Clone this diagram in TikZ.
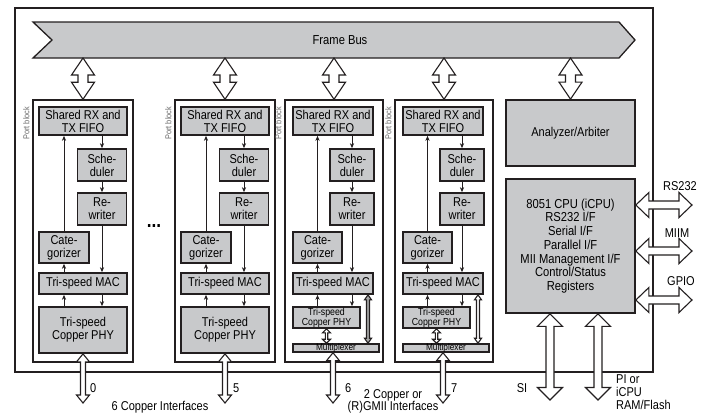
\documentclass[tikz,border=0pt]{standalone}
\usepackage{fontspec}
\setmainfont{Liberation Sans}[FakeStretch=0.86]
\usetikzlibrary{arrows.meta,calc}

\definecolor{boxgray}{RGB}{200,201,203}
\definecolor{ink}{RGB}{35,31,32}

\newcommand\mainfs{\fontsize{12.8}{13}\selectfont}

\tikzset{
  blk/.style={draw=ink, fill=boxgray, line width=1.7pt, inner sep=0pt, align=center, font=\mainfs},
  portframe/.style={draw=ink, fill=white, line width=1.5pt, inner sep=0pt},
  flow/.style={draw=ink, line width=0.8pt, -{Stealth[length=5pt,width=4.2pt]}},
  hollow/.style={draw=ink, fill=white, line width=1.1pt, line join=miter},
  plabel/.style={font=\fontsize{8.5}{9}\selectfont, text=black!60, inner sep=0.5pt},
  lbl/.style={font=\mainfs, inner sep=0pt, align=left}
}

% vertical hollow double arrow: [style]{top point}{bottom point}{half shaft}{half head}{head length}
\newcommand\vhollow[6][]{%
  \draw[hollow,#1] let \p1=(#2), \p2=(#3) in
    (\x1,\y1) -- (\x1+#5pt,\y1-#6pt) -- (\x1+#4pt,\y1-#6pt) -- (\x1+#4pt,\y2+#6pt)
    -- (\x1+#5pt,\y2+#6pt) -- (\x1,\y2) -- (\x1-#5pt,\y2+#6pt) -- (\x1-#4pt,\y2+#6pt)
    -- (\x1-#4pt,\y1-#6pt) -- (\x1-#5pt,\y1-#6pt) -- cycle;}

% horizontal hollow double arrow: [style]{left point}{right point}{half shaft}{half head}{head length}
\newcommand\hhollow[6][]{%
  \draw[hollow,#1] let \p1=(#2), \p2=(#3) in
    (\x1,\y1) -- (\x1+#6pt,\y1+#5pt) -- (\x1+#6pt,\y1+#4pt) -- (\x2-#6pt,\y1+#4pt)
    -- (\x2-#6pt,\y1+#5pt) -- (\x2,\y1) -- (\x2-#6pt,\y1-#5pt) -- (\x2-#6pt,\y1-#4pt)
    -- (\x1+#6pt,\y1-#4pt) -- (\x1+#6pt,\y1-#5pt) -- cycle;}

% arrows shared by every port block; #2 is the PHY node under the MAC
\newcommand\portflow[2]{%
  \draw[flow] (cat#1.north) -- (cat#1.north |- fifo#1.south);
  \draw[flow] (fifo#1.south -| sch#1) -- (sch#1.north);
  \draw[flow] (sch#1.south) -- (rw#1.north);
  \draw[flow] (rw#1.south) -- (mac#1.north -| rw#1);
  \draw[flow] (mac#1.north -| cat#1) -- (cat#1.south);
  \draw[flow] (#2.north -| cat#1) -- (mac#1.south -| cat#1);
  \draw[flow] (mac#1.south -| rw#1) -- (#2.north -| rw#1);
}

% port block with an integrated copper PHY: {suffix}{x offset}
\newcommand\portA[2]{%
  \node[portframe, minimum width=100pt, minimum height=262pt] (pb#1) at (83+#2,231) {};
  \node[plabel, rotate=90, anchor=south east] (pl#1) at ($(pb#1.north west)+(-2,7)$) {Port block};
  \node[blk, minimum width=88pt, minimum height=28pt] (fifo#1) at (83+#2,121) {Shared RX and\\TX FIFO};
  \node[blk, minimum width=49pt, minimum height=32pt] (sch#1) at (102+#2,165) {Sche-\\duler};
  \node[blk, minimum width=49pt, minimum height=32pt] (rw#1) at (102+#2,209) {Re-\\writer};
  \node[blk, minimum width=50pt, minimum height=31pt] (cat#1) at (64+#2,247.5) {Cate-\\gorizer};
  \node[blk, minimum width=88pt, minimum height=21pt] (mac#1) at (83+#2,283.5) {Tri-speed MAC};
  \node[blk, minimum width=88pt, minimum height=46pt] (phy#1) at (83+#2,330) {Tri-speed\\Copper PHY};
  \portflow{#1}{phy#1}
}

% port block with PHY and multiplexer: {suffix}{x offset}{fill of the bypass arrow}
\newcommand\portB[3]{%
  \node[portframe, minimum width=98pt, minimum height=262pt] (pb#1) at (334+#2,231) {};
  \node[plabel, rotate=90, anchor=south east] (pl#1) at ($(pb#1.north west)+(-2,7)$) {Port block};
  \node[blk, minimum width=80pt, minimum height=28pt] (fifo#1) at (333+#2,121) {Shared RX and\\TX FIFO};
  \node[blk, minimum width=44pt, minimum height=32pt] (sch#1) at (352+#2,165) {Sche-\\duler};
  \node[blk, minimum width=44pt, minimum height=32pt] (rw#1) at (352+#2,209) {Re-\\writer};
  \node[blk, minimum width=49pt, minimum height=31pt] (cat#1) at (317.5+#2,247.5) {Cate-\\gorizer};
  \node[blk, minimum width=80pt, minimum height=21pt] (mac#1) at (333+#2,283.5) {Tri-speed MAC};
  \node[blk, minimum width=67pt, minimum height=21pt, font=\fontsize{10.2}{10}\selectfont] (phy#1) at (326.5+#2,317.5) {Tri-speed\\Copper PHY};
  \node[blk, line width=1.5pt, minimum width=86pt, minimum height=8pt] (mux#1) at (336+#2,348) {};
  \node[inner sep=0pt, font=\fontsize{9.6}{9.6}\selectfont] (muxt#1) at (mux#1) {Multiplexer};
  \coordinate (tall#1) at (368+#2,0);
  \portflow{#1}{phy#1}
  \vhollow{phy#1.south}{mux#1.north -| phy#1}{1.2}{4}{4}
  \vhollow[fill=#3]{mac#1.south -| tall#1}{mux#1.north -| tall#1}{1.5}{3.5}{5}
}

\begin{document}
\begin{tikzpicture}[x=1pt,y=-1pt]
\useasboundingbox (0,0) rectangle (712,415);

% chip outline
\node[draw=ink, line width=1.6pt, minimum width=638pt, minimum height=364pt, inner sep=0pt] (chip) at (334,190) {};

% frame bus
\draw[fill=boxgray, draw=ink, line width=1.3pt]
  (33,22) -- (619,22) -- (635,40) -- (619,58) -- (33,58) -- (52,40) -- cycle;
\node[inner sep=0pt, font=\fontsize{13}{13}\selectfont] (bus) at (340,40) {Frame Bus};
\coordinate (busbot) at (334,58);

% port blocks
\portA{1}{0}
\portA{2}{142}
\portB{3}{0}{black!35}
\portB{4}{110}{white}

\node[inner sep=0pt, font=\fontsize{20}{20}\selectfont\bfseries] (dots) at (154,226) {...};

% analyzer and CPU
\node[blk, minimum width=129pt, minimum height=66pt] (ana) at (570.5,133) {Analyzer/Arbiter};
\node[blk, minimum width=129pt, minimum height=134pt, font=\fontsize{13}{13.7}\selectfont] (cpu) at (570.5,246)
  {8051 CPU (iCPU)\\RS232 I/F\\Serial I/F\\Parallel I/F\\MII Management I/F\\Control/Status\\Registers};

% frame bus connections
\vhollow{pb1.north |- busbot}{pb1.north}{5}{11.5}{17}
\vhollow{pb2.north |- busbot}{pb2.north}{5}{11.5}{17}
\vhollow{pb3.north |- busbot}{pb3.north}{5}{11.5}{17}
\vhollow{pb4.north |- busbot}{pb4.north}{5}{11.5}{17}
\vhollow{ana.north |- busbot}{ana.north}{5}{11.5}{17}

% port interfaces
\coordinate (pbot) at (0,403);
\vhollow{phy1.south}{phy1.south |- pbot}{2.5}{6.5}{8}
\vhollow{phy2.south}{phy2.south |- pbot}{2.5}{6.5}{8}
\vhollow{mux3.south -| fifo3}{fifo3 |- pbot}{2.5}{6.5}{8}
\vhollow{mux4.south -| fifo4}{fifo4 |- pbot}{2.5}{6.5}{8}
\node[lbl, anchor=west] (n0) at (90,388) {0};
\node[lbl, anchor=west] (n5) at (233,388) {5};
\node[lbl, anchor=west] (n6) at (345,388) {6};
\node[lbl, anchor=west] (n7) at (451,388) {7};
\node[lbl] (copper) at (160,407) {6 Copper Interfaces};
\node[lbl, align=center, anchor=north, font=\fontsize{12.8}{12.3}\selectfont] (rgmii) at (393,389.5) {2 Copper or\\(R)GMII Interfaces};

% CPU interfaces
\coordinate (rsE) at (692,205);
\coordinate (miE) at (692,251);
\coordinate (gpE) at (692,300);
\hhollow{cpu.east |- rsE}{rsE}{4}{12.5}{13}
\hhollow{cpu.east |- miE}{miE}{4}{12.5}{13}
\hhollow{cpu.east |- gpE}{gpE}{4}{12.5}{13}
\node[lbl] (rs232) at (680,186) {RS232};
\node[lbl] (miim) at (677,233) {MIIM};
\node[lbl] (gpio) at (681,281) {GPIO};

\coordinate (siE) at (550,400);
\coordinate (piE) at (598,400);
\vhollow{cpu.south -| siE}{siE}{4}{12.5}{12.5}
\vhollow{cpu.south -| piE}{piE}{4}{12.5}{12.5}
\node[lbl] (si) at (522,388) {SI};
\node[lbl, anchor=north west, font=\fontsize{12.8}{13}\selectfont] (pi) at (616,374) {PI or\\iCPU\\RAM/Flash};
\end{tikzpicture}
\end{document}
